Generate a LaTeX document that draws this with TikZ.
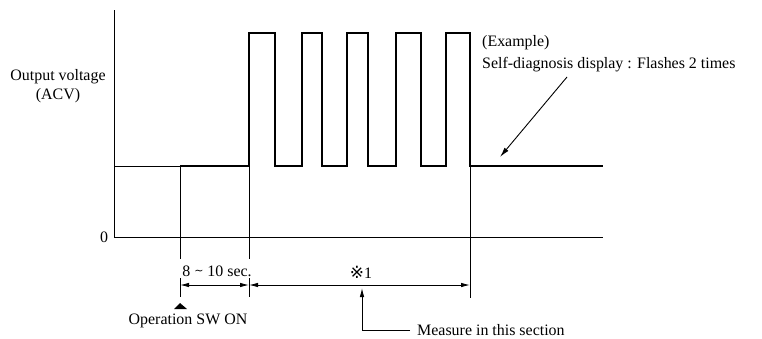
\documentclass[tikz,border=0pt]{standalone}
\usepackage{fontspec}
\setmainfont{Liberation Serif}
\newfontfamily\djfont{DejaVu Sans}
\usetikzlibrary{arrows.meta}
\begin{document}
\begin{tikzpicture}[x=1bp,y=-1bp,
  thinln/.style={line width=0.9bp},
  sig/.style={line width=2.2bp, line join=miter},
  lbl/.style={font=\fontsize{16}{19}\selectfont, inner sep=0pt},
  dimln/.style={line width=0.9bp, {Latex[length=9bp,width=4.5bp]}-{Latex[length=9bp,width=4.5bp]}}]
\useasboundingbox (0,0) rectangle (762,338);
% coordinates
\coordinate (ytop) at (114,10);
\coordinate (org) at (114,237);
\coordinate (xend) at (603,237);
\coordinate (lowL) at (114,166);
\coordinate (sw) at (180,166);
\coordinate (r1) at (249,166);
\coordinate (f5) at (470,166);
\coordinate (sigend) at (603,166);
% axes
\draw[thinln] (ytop) -- (org) -- (xend);
\draw[thinln] (lowL) -- (sw);
% signal
\draw[sig] (sw) -- (r1) -- (249,33) -- (275,33) -- (275,166) -- (302,166) -- (302,33) -- (322,33) -- (322,166)
  -- (347,166) -- (347,33) -- (368,33) -- (368,166) -- (396,166) -- (396,33) -- (421,33) -- (421,166)
  -- (446,166) -- (446,33) -- (f5 |- 0,33) -- (f5) -- (sigend);
% extension lines
\coordinate (swb) at (180,259);
\coordinate (r1b) at (249,259);
\coordinate (swt) at (180,278);
\coordinate (swe) at (180,297);
\coordinate (r1t) at (249,278);
\coordinate (r1e) at (249,297);
\coordinate (f5e) at (470,298);
\draw[thinln] (sw) -- (swb);
\draw[thinln] (r1) -- (r1b);
\draw[thinln] (swt) -- (swe);
\draw[thinln] (r1t) -- (r1e);
\draw[thinln] (f5) -- (f5e);
% dimensions
\coordinate (d0) at (180,285);
\coordinate (d1) at (249,285);
\coordinate (d2) at (470,285);
\draw[dimln] (d0) -- (d1);
\draw[dimln] (d1) -- (d2);
% labels
\node[lbl, align=center] (yl) at (58,86) {Output voltage\\(ACV)};
\node[lbl] (zero) at (104,237) {0};
\node[lbl] (t1) at (217,271) {8 \raisebox{0.2ex}{\djfont\fontsize{11}{11}\selectfont\char"223C} 10 sec.};
\node[lbl] (t2) at (361,272) {{\djfont\fontsize{17}{17}\selectfont\char"203B}1};
% operation SW ON
\fill (180,303) -- (174,309) -- (187,309) -- cycle;
\node[lbl] (op) at (188,321) {Operation SW ON};
% measure leader
\node[lbl, anchor=west] (meas) at (417,330) {Measure in this section};
\coordinate (mtip) at (362,288);
\draw[thinln, -{Latex[length=9bp,width=4.5bp]}] (meas.west) ++(-7,0) -| (mtip);
% example annotation
\node[lbl, anchor=west] (ex) at (482,43) {(Example)};
\node[lbl, anchor=west] (sd) at (482,65) {Self-diagnosis display : Flashes 2 times};
\coordinate (atail) at (567,77);
\coordinate (ahead) at (500,157);
\draw[thinln, -{Latex[length=10bp,width=5bp]}] (atail) -- (ahead);
\end{tikzpicture}
\end{document}
